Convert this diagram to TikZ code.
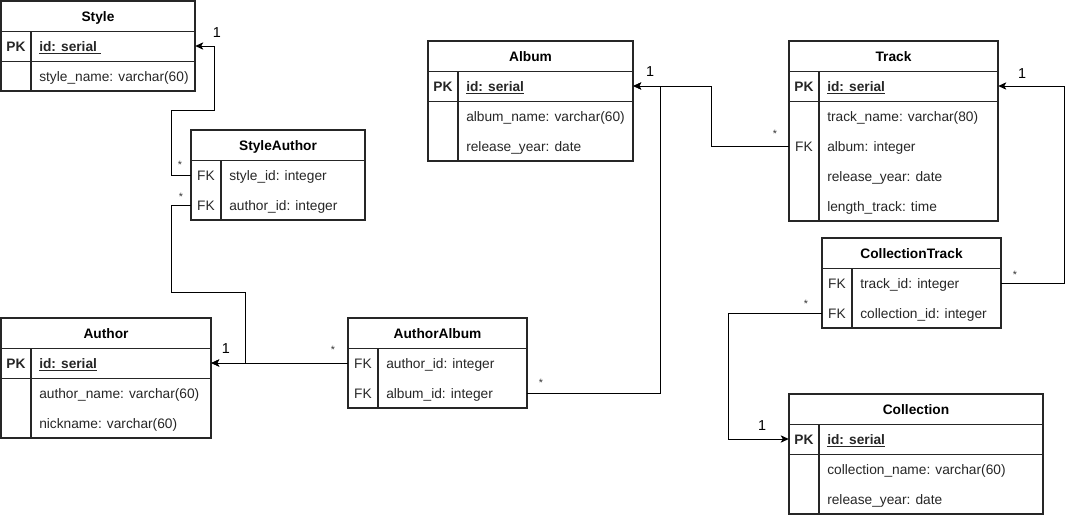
\documentclass[tikz,border=0pt]{standalone}
\usepackage{fontspec}
\setmainfont{Liberation Sans}
\usetikzlibrary{fit,calc,arrows.meta}
\newcommand\erfont{\fontsize{10.3}{12}\selectfont}
\tikzset{
  tblbox/.style={draw=black!85, line width=0.8pt, inner sep=0pt},
  titlebox/.style={inner sep=0pt},
  titletxt/.style={inner sep=0pt, anchor=base, font=\erfont\bfseries},
  rowbox/.style={inner sep=0pt},
  keytxt/.style={inner sep=0pt, anchor=base, font=\erfont, text=black!85},
  fieldtxt/.style={inner sep=0pt, anchor=base west, font=\erfont, text=black!85},
  sepline/.style={draw=black!85, line width=0.8pt},
  conn/.style={draw=black, line width=0.75pt},
  arr/.style={conn, -{Stealth[length=6pt,width=5.5pt,inset=1.5pt]}},
  one/.style={inner sep=0pt, font=\fontsize{10.8}{12}\selectfont},
  many/.style={inner sep=0pt, font=\fontsize{8}{9}\selectfont, text=black!80},
}
% #1 name, #2 x0, #3 x1, #4 ytop, #5 key text, #6 field text
\newcommand\errow[6]{%
  \node[rowbox, fit={(#2,#4) (#3,#4+30)}] (#1) {};
  \node[keytxt] (#1-k) at (#2+15,#4+20.5) {#5};
  \node[fieldtxt] (#1-f) at (#2+38,#4+20.5) {#6};
}
% #1 name, #2 x0, #3 x1, #4 y0, #5 y1, #6 title
\newcommand\ertable[6]{%
  \node[tblbox, fit={(#2,#4) (#3,#5)}] (#1) {};
  \node[titlebox, fit={(#2,#4) (#3,#4+30)}] (#1-t) {};
  \node[titletxt] (#1-tt) at ($(#2,#4+20)!0.5!(#3,#4+20)$) {#6};
  \draw[sepline] (#1-t.south west) -- (#1-t.south east);
  \draw[sepline] (#2+30,#4+30) -- (#2+30,#5);
}
\begin{document}
\begin{tikzpicture}[x=0.75pt,y=-0.75pt]
\useasboundingbox (0,0) rectangle (1073,515);

% Style
\ertable{style}{1}{195}{1}{91}{Style}
\errow{style-id}{1}{195}{31}{\textbf{PK}}{\textbf{\underline{id: serial\ }}}
\errow{style-name}{1}{195}{61}{}{style\_name: varchar(60)}
\draw[sepline] (style-id.south west) -- (style-id.south east);

% StyleAuthor
\ertable{sa}{191}{365}{130}{220}{StyleAuthor}
\errow{sa-style}{191}{365}{160}{FK}{style\_id: integer}
\errow{sa-author}{191}{365}{190}{FK}{author\_id: integer}

% Author
\ertable{au}{1}{211}{318}{438}{Author}
\errow{au-id}{1}{211}{348}{\textbf{PK}}{\textbf{\underline{id: serial}}}
\errow{au-name}{1}{211}{378}{}{author\_name: varchar(60)}
\errow{au-nick}{1}{211}{408}{}{nickname: varchar(60)}
\draw[sepline] (au-id.south west) -- (au-id.south east);

% AuthorAlbum
\ertable{aa}{348}{527}{318}{408}{AuthorAlbum}
\errow{aa-author}{348}{527}{348}{FK}{author\_id: integer}
\errow{aa-album}{348}{527}{378}{FK}{album\_id: integer}

% Album
\ertable{al}{428}{633}{41}{161}{Album}
\errow{al-id}{428}{633}{71}{\textbf{PK}}{\textbf{\underline{id: serial}}}
\errow{al-name}{428}{633}{101}{}{album\_name: varchar(60)}
\errow{al-year}{428}{633}{131}{}{release\_year: date}
\draw[sepline] (al-id.south west) -- (al-id.south east);

% Track
\ertable{tr}{789}{998}{41}{221}{Track}
\errow{tr-id}{789}{998}{71}{\textbf{PK}}{\textbf{\underline{id: serial}}}
\errow{tr-name}{789}{998}{101}{}{track\_name: varchar(80)}
\errow{tr-album}{789}{998}{131}{FK}{album: integer}
\errow{tr-year}{789}{998}{161}{}{release\_year: date}
\errow{tr-len}{789}{998}{191}{}{length\_track: time}
\draw[sepline] (tr-id.south west) -- (tr-id.south east);

% CollectionTrack
\ertable{ct}{822}{1001}{238}{328}{CollectionTrack}
\errow{ct-track}{822}{1001}{268}{FK}{track\_id: integer}
\errow{ct-coll}{822}{1001}{298}{FK}{collection\_id: integer}

% Collection
\ertable{co}{789}{1043}{394}{514}{Collection}
\errow{co-id}{789}{1043}{424}{\textbf{PK}}{\textbf{\underline{id: serial}}}
\errow{co-name}{789}{1043}{454}{}{collection\_name: varchar(60)}
\errow{co-year}{789}{1043}{484}{}{release\_year: date}
\draw[sepline] (co-id.south west) -- (co-id.south east);

% connectors
\draw[arr] (sa-style.west) -| (171,110) -| ($(style-id.east)+(19,0)$) -- (style-id.east);
\draw[arr] (sa-author.west) -| (171,292) -| ($(au-id.east)+(34,0)$) -- (au-id.east);
\draw[arr] (aa-author.west) -- (au-id.east);
\draw[arr] (aa-album.east) -| ($(al-id.east)+(27,0)$) -- (al-id.east);
\draw[arr] (tr-album.west) -| ($(al-id.east)+(78,0)$) -- (al-id.east);
\draw[arr] (ct-track.east) -| ($(tr-id.east)+(66,0)$) -- (tr-id.east);
\draw[arr] (ct-coll.west) -| ($(co-id.west)+(-60,0)$) -- (co-id.west);

% cardinalities
\node[one] (c1) at (217,33) {1};
\node[many] (c2) at (180,165) {*};
\node[many] (c3) at (181,197) {*};
\node[one] (c4) at (226,349) {1};
\node[many] (c5) at (333,350) {*};
\node[many] (c6) at (541,383) {*};
\node[one] (c7) at (650,72) {1};
\node[many] (c8) at (775,134) {*};
\node[one] (c9) at (1022,74) {1};
\node[many] (c10) at (1015,275) {*};
\node[many] (c11) at (806,304) {*};
\node[one] (c12) at (762,426) {1};
\end{tikzpicture}
\end{document}
